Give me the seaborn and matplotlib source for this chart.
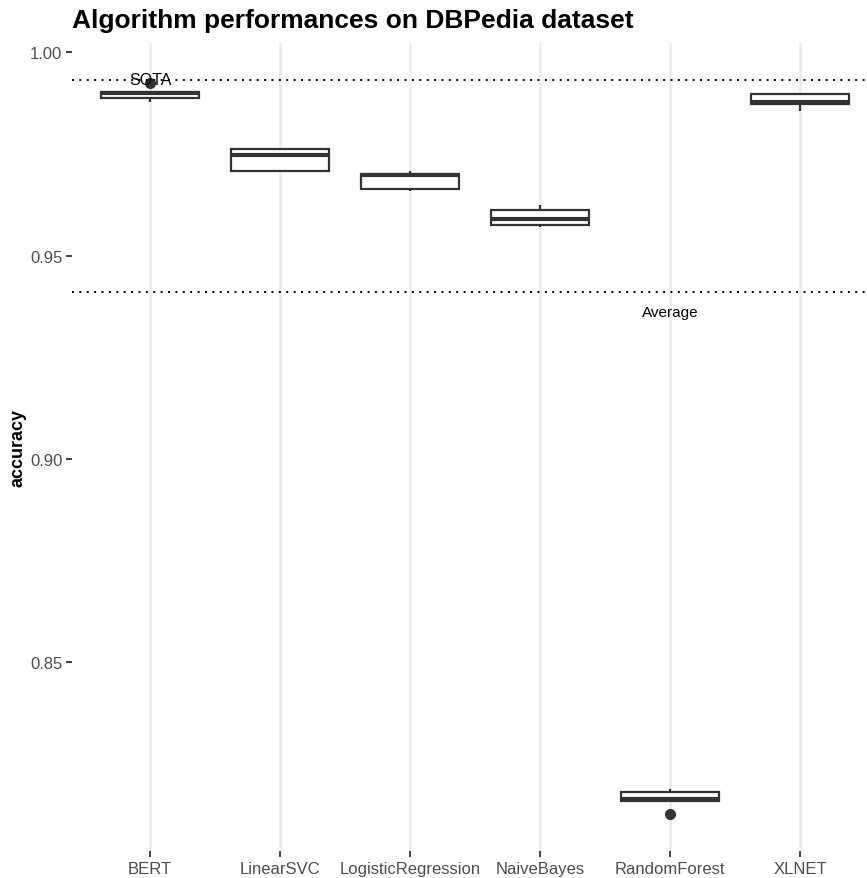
import numpy as np
import pandas as pd
import matplotlib
matplotlib.use("Agg")
import matplotlib.pyplot as plt
import seaborn as sns

# Per-fold accuracy of each algorithm
algorithms = ["BERT", "LinearSVC", "LogisticRegression", "NaiveBayes", "RandomForest", "XLNET"]
bert = [0.98793, 0.98880, 0.99005, 0.99020, 0.99240]
linear_svc = [0.97070, 0.97077, 0.97473, 0.97621, 0.97660]
logistic_regression = [0.96587, 0.96630, 0.96980, 0.97020, 0.97080]
naive_bayes = [0.95703, 0.95752, 0.95899, 0.96120, 0.96244]
random_forest = [0.81260, 0.81590, 0.81630, 0.81800, 0.81870]
xlnet = [0.98565, 0.98728, 0.98786, 0.98974, 0.98974]

sota_value = 0.9933
average_value = 0.9411

scores = [bert, linear_svc, logistic_regression, naive_bayes, random_forest, xlnet]
df = pd.DataFrame({
    "algorithm": np.repeat(algorithms, [len(s) for s in scores]),
    "accuracy": np.concatenate(scores),
})

sns.set_theme(style="white")
plt.rcParams["font.family"] = ["Liberation Sans", "DejaVu Sans"]

W, H = 867, 879
fig = plt.figure(figsize=(W / 100, H / 100), dpi=100)
# panel spans x 72..878 px (right part falls off the canvas), y 44..852 px
left, right, top, bottom = 72, 878, 44, 852
ax = fig.add_axes([left / W, 1 - bottom / H, (right - left) / W, (bottom - top) / H])

dark = "#333333"
sns.boxplot(
    data=df, x="algorithm", y="accuracy", order=algorithms, ax=ax,
    width=0.75, color="white", linewidth=1.6, linecolor=dark,
    whis=1.5,
    medianprops=dict(color=dark, linewidth=3.0),
    flierprops=dict(marker="o", markersize=7, markerfacecolor=dark,
                    markeredgecolor=dark),
    boxprops=dict(facecolor="white", edgecolor=dark),
    whiskerprops=dict(color=dark), capprops=dict(linewidth=0),
    zorder=3,
)

# reference lines
dots = (0, (1, 2.8))
ax.axhline(sota_value, color="black", linestyle=dots, linewidth=1.4, zorder=4)
ax.axhline(average_value, color="black", linestyle=dots, linewidth=1.4, zorder=4)
ax.text(0, sota_value, "SOTA", ha="center", va="center", fontsize=11.5,
        color="black", zorder=5)
ax.text(4, average_value - 0.005, "Average", ha="center", va="center",
        fontsize=11, color="black", zorder=5)

# scales with ggplot-style expansion
lo = min(min(s) for s in scores)
hi = max(max(max(s) for s in scores), sota_value)
pad = (hi - lo) * 0.05
ax.set_ylim(lo - pad, hi + pad)
ax.set_xlim(-0.6, len(algorithms) - 0.4)
ax.set_yticks([0.85, 0.90, 0.95, 1.00])
ax.set_yticklabels(["0.85", "0.90", "0.95", "1.00"])

# vertical major grid only
for i in range(len(algorithms)):
    ax.axvline(i, color="#EBEBEB", linewidth=1.8, zorder=0)
ax.grid(False)
for s in ax.spines.values():
    s.set_visible(False)

ax.tick_params(axis="both", which="both", length=4, width=1.3, color=dark,
               labelcolor="#4D4D4D", labelsize=12, pad=3,
               left=True, bottom=True)
ax.set_xlabel("")
ax.set_ylabel("accuracy", fontsize=13, fontweight="bold", color="black")
ax.yaxis.set_label_coords((27 - left) / (right - left), 0.5)

fig.text(left / W, 1 - 28 / H, "Algorithm performances on DBPedia dataset",
         fontsize=19, fontweight="bold", color="black", ha="left", va="baseline")

fig.savefig("out.png", dpi=100, facecolor="white")
